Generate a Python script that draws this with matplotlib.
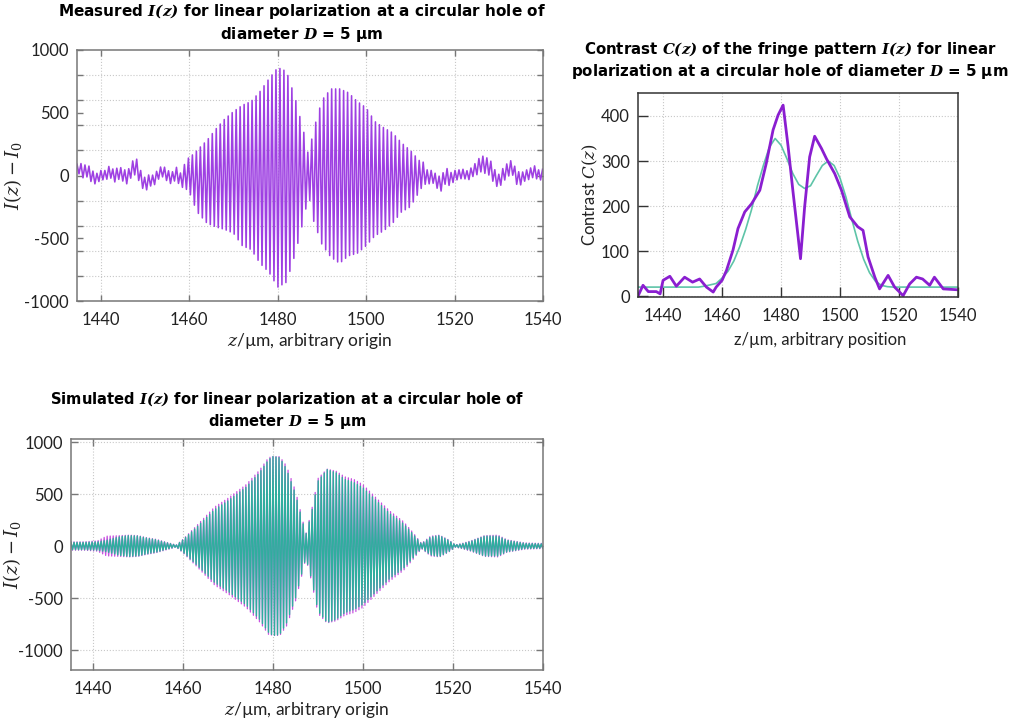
import numpy as np
import matplotlib
matplotlib.use('Agg')
import matplotlib.pyplot as plt
from matplotlib.ticker import MultipleLocator

plt.rcParams['font.family'] = ['Lato', 'DejaVu Sans']
plt.rcParams['axes.unicode_minus'] = False
plt.rcParams['mathtext.fontset'] = 'custom'
plt.rcParams['mathtext.rm'] = 'DejaVu Serif'
plt.rcParams['mathtext.it'] = 'DejaVu Serif:italic'
plt.rcParams['mathtext.bf'] = 'DejaVu Serif:italic:bold'

# ---------------- data ----------------
# Measured fringe pattern: envelope of fringe maxima / minima (µm, counts)
meas_env_z = [1434, 1436, 1438, 1440, 1442, 1444, 1446, 1448, 1450, 1452, 1454, 1456, 1458,
              1460, 1462, 1464, 1466, 1468, 1470, 1472, 1474, 1476, 1478, 1480, 1482, 1484,
              1486, 1487, 1488, 1490, 1492, 1494, 1496, 1498, 1500, 1502, 1504, 1506, 1508,
              1510, 1512, 1514, 1516, 1518, 1520, 1522, 1524, 1526, 1528, 1530, 1532, 1534,
              1536, 1538, 1540]
meas_upper = [40, 60, 40, 30, 50, 50, 60, 80, 40, 40, 50, 40, 60,
              130, 210, 280, 370, 450, 510, 560, 590, 670, 770, 860, 830, 610,
              330, 150, 350, 600, 690, 690, 660, 590, 540, 430, 380, 340, 260,
              200, 120, 50, 40, 60, 40, 30, 40, 80, 90, 50, 70, 60,
              40, 50, 40]
meas_lower = [50, 40, 60, 40, 40, 50, 40, 50, 70, 40, 40, 50, 50,
              150, 300, 380, 410, 430, 460, 560, 590, 700, 770, 890, 850, 620,
              330, 150, 350, 550, 650, 700, 640, 620, 560, 480, 440, 380, 290,
              250, 130, 50, 60, 70, 40, 40, 40, 50, 40, 60, 40, 50,
              40, 40, 40]
# slow baseline wander in the noisy wings
meas_base_z = list(range(1434, 1461)) + [1461, 1512] + list(range(1513, 1541))
meas_base = ([20, 60, 20, 40, 0, -20, 10, 0, 30, -10, 20, 0, -30, 40, 60, -20, -60, -30,
              -40, 10, 30, 0, -20, 20, -40, 0, 20]
             + [0, 0]
             + [20, -20, 0, -40, -60, 10, -30, 0, 10, 20, 0, 30, 50, 80, 60, 40, -20, -40,
                0, 30, 60, -20, -30, 0, 10, 30, 0, 10])
meas_half_period = 0.45

# Simulated fringe pattern envelopes
sim_env_z = [1435, 1438, 1441, 1443, 1446, 1448, 1450, 1452, 1454, 1456, 1458.5, 1460, 1463,
             1467, 1470, 1474, 1477, 1479, 1480, 1481.5, 1483, 1485, 1486.5, 1487.3, 1488.5,
             1490, 1492, 1494, 1496, 1498, 1500, 1503, 1506, 1509, 1511, 1513, 1515, 1517,
             1519, 1520.5, 1522, 1524, 1527, 1530, 1532, 1534, 1536, 1540]
sim_teal = [35, 35, 40, 55, 90, 100, 95, 75, 60, 35, 8, 60, 180,
            350, 435, 565, 705, 830, 860, 850, 740, 500, 245, 110, 310,
            625, 735, 705, 640, 610, 560, 435, 310, 215, 120, 20, 85, 100,
            55, 10, 20, 45, 95, 95, 55, 40, 25, 20]
sim_magenta = [40, 40, 50, 95, 100, 105, 100, 80, 65, 40, 10, 65, 195,
               375, 460, 590, 730, 850, 860, 860, 770, 530, 265, 115, 330,
               650, 740, 720, 665, 640, 590, 460, 335, 235, 135, 25, 95, 105,
               60, 12, 25, 50, 100, 105, 60, 45, 30, 25]
sim_half_period = 0.335

# Contrast C(z)
contrast_z = [1431.5, 1433.2, 1435, 1437.7, 1439, 1440, 1442.3, 1444.5, 1447.3, 1450, 1452.4,
              1454.7, 1457, 1458, 1460, 1461.5, 1463.7, 1465.4, 1467.7, 1470, 1472.8, 1475,
              1477.3, 1479, 1480.7, 1482.4, 1484, 1485.8, 1486.6, 1488, 1489.7, 1491.4, 1493.7,
              1495.4, 1498.2, 1500.5, 1503.3, 1506, 1507.8, 1509.5, 1511.8, 1513.4, 1516.3,
              1518.5, 1521.4, 1523.6, 1525.9, 1528, 1530.4, 1532, 1535, 1540]
contrast_meas = [0, 24, 10, 10, 5, 35, 44, 22, 42, 31, 38,
                 20, 9, 20, 35, 57, 102, 150, 187, 205, 235, 295,
                 369, 402, 424, 332, 235, 131, 83, 198, 309, 355, 328,
                 305, 272, 235, 176, 154, 146, 87, 42, 16, 46,
                 20, 1, 27, 42, 38, 24, 42, 16, 14]
fit_z = list(range(1430, 1542, 2))
contrast_fit = [20, 20, 20, 20, 20, 20, 20, 20, 20, 20, 20, 20, 22, 25, 28, 40, 55, 78, 110,
                148, 192, 245, 290, 330, 350, 335, 305, 272, 248, 239, 245, 268, 290, 300,
                290, 262, 220, 170, 122, 82, 52, 33, 24, 21, 20, 20, 20, 20, 20, 20, 20, 20,
                20, 20, 20, 20]

W, H = 1015, 725
fig = plt.figure(figsize=(W / 100, H / 100), dpi=100)


def rect(x0, y0, x1, y1):
    return [x0 / W, 1 - y1 / H, (x1 - x0) / W, (y1 - y0) / H]


title_kw = dict(fontweight='bold', family=['DejaVu Sans'], linespacing=1.25)
grid_kw = dict(color='#c8c8c8', linestyle=':', linewidth=0.8)
lab_col = '#222222'


def style(ax, spine_col, ticklen):
    for s in ax.spines.values():
        s.set_color(spine_col)
        s.set_linewidth(1.1)
    ax.tick_params(direction='in', top=True, right=True, length=ticklen, width=1,
                   color=spine_col, labelsize=12, labelcolor=lab_col)
    ax.tick_params(axis='x', pad=8)
    ax.tick_params(axis='y', pad=6)
    ax.tick_params(which='minor', direction='in', top=True, right=True, length=ticklen,
                   width=1, color=spine_col)


# ---------- measured ----------
ax1 = fig.add_axes(rect(77, 50, 543, 301))
z_m = np.arange(1434.6, 1540.01, meas_half_period)
up = np.interp(z_m, meas_env_z, meas_upper)
lo = np.interp(z_m, meas_env_z, meas_lower)
base = np.interp(z_m, meas_base_z, meas_base)
y_m = base + np.where(np.arange(len(z_m)) % 2 == 0, up, -lo)
ax1.plot(z_m, y_m, color='#9E40E2', lw=1.15)
ax1.set_xlim(1434.6, 1540)
ax1.set_ylim(-1000, 1000)
ax1.xaxis.set_major_locator(MultipleLocator(20))
ax1.yaxis.set_major_locator(MultipleLocator(500))
ax1.yaxis.set_minor_locator(MultipleLocator(200))
ax1.grid(True, which='major', axis='x', **grid_kw)
ax1.grid(True, which='minor', axis='y', **grid_kw)
style(ax1, '#777777', 4)
ax1.set_title('Measured $\\mathbf{I(z)}$ for linear polarization at a circular hole of\n'
              'diameter $\\mathbf{D}$ = 5 µm', x=0.483, pad=8, fontsize=11, **title_kw)
ax1.set_xlabel('$z$/µm, arbitrary origin', fontsize=12.5, labelpad=2, color=lab_col)
ax1.set_ylabel('$I(z) - I_0$', fontsize=13, color=lab_col)
ax1.yaxis.set_label_coords(-0.114, 0.5)

# ---------- contrast ----------
ax2 = fig.add_axes(rect(638, 93, 958, 297))
ax2.plot(fit_z, contrast_fit, color='#5EC4A8', lw=1.2)
ax2.plot(contrast_z, contrast_meas, color='#8A1ED0', lw=2.0)
ax2.set_xlim(1431.5, 1540)
ax2.set_ylim(-2, 451)
ax2.xaxis.set_major_locator(MultipleLocator(20))
ax2.yaxis.set_major_locator(MultipleLocator(100))
ax2.grid(True, **grid_kw)
style(ax2, '#333333', 7)
ax2.tick_params(top=False, right=False)
ax2.set_title('Contrast $\\mathbf{C(z)}$ of the fringe pattern $\\mathbf{I(z)}$ for linear\n'
              'polarization at a circular hole of diameter $\\mathbf{D}$ = 5 µm',
              x=0.475, pad=12, fontsize=10.8, **title_kw)
ax2.set_xlabel('z/µm, arbitrary position', fontsize=12, color=lab_col)
ax2.xaxis.set_label_coords(0.57, -0.17)
ax2.set_ylabel('Contrast $C(z)$', fontsize=12, color=lab_col)
ax2.yaxis.set_label_coords(-0.12, 0.5)

# ---------- simulated ----------
ax3 = fig.add_axes(rect(71, 439, 543, 670))
z_s = np.arange(1435.1, 1540.01, sim_half_period)
alt = np.where(np.arange(len(z_s)) % 2 == 0, 1.0, -1.0)
y_mag = alt * np.interp(z_s, sim_env_z, sim_magenta)
y_teal = alt * np.interp(z_s, sim_env_z, sim_teal)
ax3.plot(z_s, y_mag, color='#C850E0', lw=0.9)
ax3.plot(z_s, y_teal, color='#2FAE9E', lw=1.0)
ax3.set_xlim(1435.1, 1540)
ax3.set_ylim(-1192, 1029)
ax3.xaxis.set_major_locator(MultipleLocator(20))
ax3.yaxis.set_major_locator(MultipleLocator(500))
ax3.grid(True, **grid_kw)
style(ax3, '#777777', 5)
ax3.set_title('Simulated $\\mathbf{I(z)}$ for linear polarization at a circular hole of\n'
              'diameter $\\mathbf{D}$ = 5 µm', x=0.458, pad=9, fontsize=10.6, **title_kw)
ax3.set_xlabel('$z$/µm, arbitrary origin', fontsize=12.5, labelpad=2, color=lab_col)
ax3.set_ylabel('$I(z) - I_0$', fontsize=13, color=lab_col)
ax3.yaxis.set_label_coords(-0.102, 0.5)

fig.savefig('out.png', dpi=100)
